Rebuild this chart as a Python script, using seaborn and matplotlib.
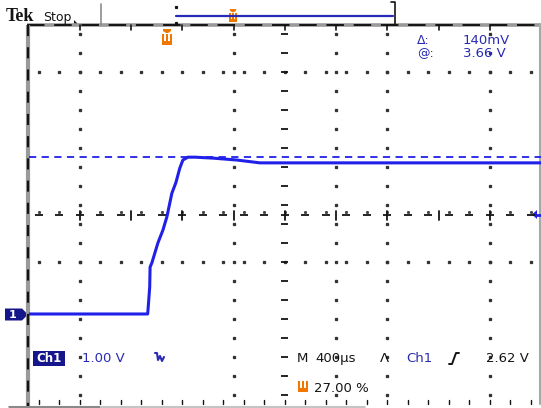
import matplotlib
matplotlib.use("Agg")
import matplotlib.pyplot as plt
import pandas as pd
import seaborn as sns
from matplotlib.patches import Polygon, Rectangle

# ---- Channel 1 capture (400 µs/div, 1.00 V/div, trigger at 27 % of record) ----
time_us = [-1080, -600, -150, -146, -134, -131, -117, -70, -31, 0, 39, 70, 101,
           125, 164, 220, 359, 546, 726, 1200, 2000, 2920]
volts = [0.00, 0.00, 0.00, 0.13, 0.57, 0.99, 1.08, 1.50, 1.77, 2.05, 2.55, 2.77,
         3.08, 3.25, 3.31, 3.31, 3.29, 3.25, 3.19, 3.19, 3.19, 3.19]
cursor_v = 3.31

readout_delta = "140mV"
readout_at = "3.66 V"
ch1_scale = "1.00 V"
timebase = "400µs"
trig_source = "Ch1"
trig_level_label = "2.62 V"
trig_pos_label = "27.00 %"

us_per_div = 400
v_per_div = 1.0
n_xdiv, n_ydiv = 10, 8
trig_frac = 0.27
ground_div = 1.9          # ground reference, divisions above the bottom edge

sns.set_style("white")
plt.rcParams["font.family"] = ["DejaVu Sans"]

W, H = 541, 408
fig = plt.figure(figsize=(W / 100, H / 100), dpi=100)
fig.patch.set_facecolor("white")

TRACE = "#2020e8"
TXT_BLUE = "#2a2ab4"
DARK_BLUE = "#16168c"
ORANGE = "#f07800"
INK = "#141414"

# graticule box (pixels)
gx0, gx1, gy0, gy1 = 28.5, 541.0, 25.0, 404.0
dx = (gx1 - gx0) / n_xdiv
dy = (gy1 - gy0) / n_ydiv

# overlay in pixel coordinates for the screen furniture
ov = fig.add_axes([0, 0, 1, 1], zorder=0)
ov.set_xlim(0, W)
ov.set_ylim(H, 0)
ov.axis("off")

# data axes for the waveform
ax = fig.add_axes([gx0 / W, 1 - gy1 / H, (gx1 - gx0) / W, (gy1 - gy0) / H], zorder=2)
t_start = -trig_frac * n_xdiv * us_per_div
ax.set_xlim(t_start, t_start + n_xdiv * us_per_div)
ax.set_ylim(-ground_div * v_per_div, (n_ydiv - ground_div) * v_per_div)
ax.axis("off")
ax.patch.set_alpha(0)


def px(d):
    return gx0 + d * dx


def py(d):
    return gy0 + d * dy


# ---- graticule ----
fine_x = [px(0.2 + 0.4 * k) for k in range(25)]
fine_y = [py(0.2 + 0.4 * k) for k in range(20)]

for d in (1, 4, 6, 7, 9):
    ov.plot([px(d)] * len(fine_y), fine_y, ls="none", marker="s", ms=1.4, color="#333333")
for d in (1, 5):
    ov.plot(fine_x, [py(d)] * len(fine_x), ls="none", marker="s", ms=1.4, color="#333333")

# centre horizontal line
cy = py(4)
for x in fine_x:
    ov.plot([x - 4, x + 4], [cy, cy], color=INK, lw=1.3, solid_capstyle="butt")
    ov.plot([x], [cy - 3], ls="none", marker="s", ms=1.1, color="#444444")
for d in range(1, n_xdiv):
    ov.plot([px(d), px(d)], [cy - 4, cy + 5], color=INK, lw=1.3)

# centre vertical line
cx = px(5)
for y in fine_y:
    ov.plot([cx - 3.5, cx + 3.5], [y, y], color=INK, lw=1.3, solid_capstyle="butt")

# borders
ov.plot([27, gx1], [gy0, gy0], color="#9a9a9a", lw=2.6, solid_capstyle="butt")
ov.plot([27, gx1], [gy0, gy0], color=INK, lw=1.4, dashes=(9, 5))
for d in range(1, n_xdiv):
    ov.plot([px(d), px(d)], [gy0, gy0 + 5], color=INK, lw=1.2)
ov.plot([28, 28], [gy0, gy1 + 2], color="#9a9a9a", lw=3.0, solid_capstyle="butt")
ov.plot([28, 28], [gy0, gy1 + 2], color=INK, lw=1.6, dashes=(5, 5))
ov.plot([539.5, 539.5], [gy0, gy1], color="#a8a8a8", lw=1.5)
for x in fine_x:
    ov.plot([x, x], [gy1 - 4, gy1], color=INK, lw=1.0)
ov.plot([8, 100], [406.5, 406.5], color="#8a8a8a", lw=2.2, solid_capstyle="butt")
ov.plot([100, 365], [406.5, 406.5], color="#c4c4c4", lw=2.2, solid_capstyle="butt")


def trig_icon(cxp, y0, s=1.0, cap=True):
    if cap:
        ov.add_patch(Polygon([(cxp - 4 * s, y0), (cxp + 4 * s, y0), (cxp + 4 * s, y0 + 2 * s),
                              (cxp + 1 * s, y0 + 4 * s), (cxp - 1 * s, y0 + 4 * s),
                              (cxp - 4 * s, y0 + 2 * s)], closed=True, fc=ORANGE, ec="none"))
        top = y0 + 5 * s
    else:
        top = y0
    ov.add_patch(Rectangle((cxp - 5 * s, top), 10 * s, 11 * s, fc=ORANGE, ec="none"))
    for off in (-3, 1):
        ov.add_patch(Rectangle((cxp + off * s, top), 2 * s, 7 * s, fc="white", ec="none"))


# ---- header ----
ov.text(6, 16.5, "Tek", fontsize=13, fontweight="bold", family=["Liberation Serif", "DejaVu Serif"],
        color=INK, va="center", ha="left")
ov.text(43, 17.5, "Stop", fontsize=9, color=INK, va="center", ha="left")
ov.add_patch(Polygon([(74, 20), (74, 24), (78, 24)], closed=True, fc=INK, ec="none"))
ov.plot([101, 101], [4, 25], color="#8c8c8c", lw=1.2)
ov.plot([176, 393], [16, 16], color="#2a2ab8", lw=1.6)
ov.plot([176, 176], [7, 23], ls="none", marker="s", ms=1.3, color=INK)
ov.plot([391, 395, 395, 391], [2, 2, 25, 25], color=INK, lw=1.2)
trig_icon(233, 9, s=0.8)
trig_icon(167, 29, s=1.0)

# cursor readouts
ov.text(417, 41, "Δ:", fontsize=9, color=TXT_BLUE, va="center", ha="left")
ov.text(463, 41, readout_delta, fontsize=9.5, color=TXT_BLUE, va="center", ha="left")
ov.text(417, 53.5, "@:", fontsize=9, color=TXT_BLUE, va="center", ha="left")
ov.text(463, 53.5, readout_at, fontsize=9.5, color=TXT_BLUE, va="center", ha="left")

# ---- waveform ----
df = pd.DataFrame({"time_us": time_us, "volts": volts})
sns.lineplot(data=df, x="time_us", y="volts", ax=ax, color=TRACE, lw=2.2,
             estimator=None, sort=False, zorder=5)
ax.axhline(cursor_v, color=TRACE, lw=1.3, dashes=(4, 3), zorder=4)

# ground marker for channel 1
ov.add_patch(Polygon([(5, 308.5), (22, 308.5), (28, 314.5), (22, 320.5), (5, 320.5)],
                     closed=True, fc=DARK_BLUE, ec="none"))
ov.text(13, 314.8, "1", fontsize=8, fontweight="bold", color="white", va="center", ha="center")

# trigger level indicator
ov.add_patch(Polygon([(532, 214.5), (537, 210), (537, 219)], closed=True, fc=TRACE, ec="none"))
ov.plot([536, 541], [214.5, 214.5], color=TRACE, lw=2.0)

# ---- bottom readouts ----
ov.add_patch(Rectangle((33, 351), 32, 15, fc=DARK_BLUE, ec="none"))
ov.text(49, 358.5, "Ch1", fontsize=8.5, fontweight="bold", color="white", va="center", ha="center")
ov.text(82, 358.5, ch1_scale, fontsize=9.5, color=TXT_BLUE, va="center", ha="left")
ov.plot([155, 157, 158, 160, 162, 164], [353, 353, 360, 356, 361, 357], color=TXT_BLUE, lw=1.5)

ov.text(297, 358.5, "M", fontsize=9.5, color=INK, va="center", ha="left")
ov.text(315, 358.5, timebase, fontsize=9.5, color=INK, va="center", ha="left")
ov.text(380, 358.5, "Λ", fontsize=9.5, color=INK, va="center", ha="left")
ov.text(406, 358.5, trig_source, fontsize=9.5, color=TXT_BLUE, va="center", ha="left")
ov.plot([449, 452, 456, 459], [364, 364, 353, 353], color=INK, lw=1.4)
ov.text(486, 358.5, trig_level_label, fontsize=9.5, color=INK, va="center", ha="left")

trig_icon(303, 381, s=1.0, cap=False)
ov.text(314, 388.5, trig_pos_label, fontsize=9.5, color=INK, va="center", ha="left")

fig.savefig("out.png", dpi=100, facecolor="white")
